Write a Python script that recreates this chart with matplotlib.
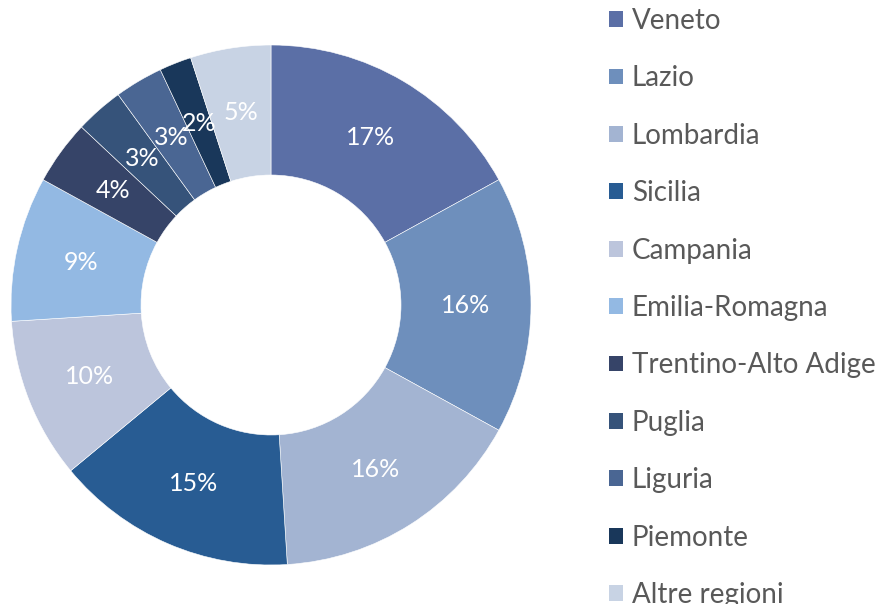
import matplotlib
matplotlib.use('Agg')
import matplotlib.pyplot as plt
from matplotlib.patches import Patch

# Data
regions = ['Veneto', 'Lazio', 'Lombardia', 'Sicilia', 'Campania', 'Emilia-Romagna',
           'Trentino-Alto Adige', 'Puglia', 'Liguria', 'Piemonte', 'Altre regioni']
shares = [17, 16, 16, 15, 10, 9, 4, 3, 3, 2, 5]
colors = ['#5B6FA6', '#6E8FBC', '#A3B4D2', '#285C93', '#BCC5DC', '#93B9E3',
          '#364468', '#36537A', '#4A6693', '#19375A', '#C8D3E4']

plt.rcParams['font.family'] = ['Lato', 'DejaVu Sans']

fig = plt.figure(figsize=(8.8, 6.04), dpi=100)
ax = fig.add_axes([11 / 880, (604 - 565) / 604, 520 / 880, 520 / 604])

wedges, texts, autotexts = ax.pie(
    shares, colors=colors, startangle=90, counterclock=False,
    radius=1.0, autopct='%d%%', pctdistance=0.75,
    wedgeprops=dict(width=0.5, edgecolor='white', linewidth=0.4),
    textprops=dict(color='white', fontsize=18))
ax.set_xlim(-1, 1)
ax.set_ylim(-1, 1)
ax.set_aspect('equal')
ax.axis('off')

handles = [Patch(facecolor=c, edgecolor='none') for c in colors]
leg = fig.legend(handles, regions, loc='upper left',
                 bbox_to_anchor=(609 / 880, 1 - 8 / 604),
                 frameon=False, fontsize=20, labelcolor='#595959',
                 handlelength=0.5, handleheight=0.5, handletextpad=0.32,
                 labelspacing=1.13, borderpad=0, borderaxespad=0)

fig.savefig('out.png', dpi=100)
